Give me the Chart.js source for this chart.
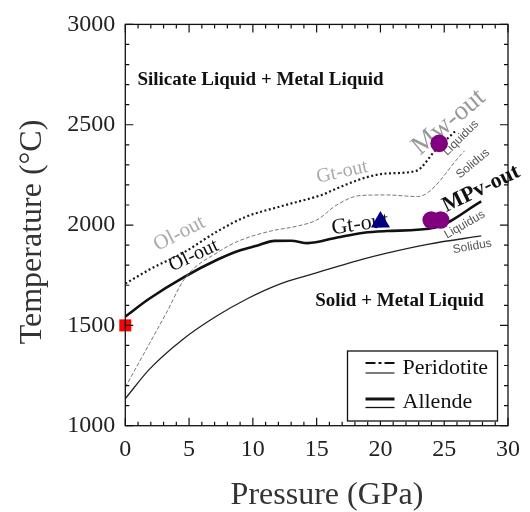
<!DOCTYPE html>
<html>
<head>
<meta charset="utf-8">
<script src="https://cdn.jsdelivr.net/npm/chart.js@4.4.0/dist/chart.umd.min.js"></script>
<style>
  html, body { margin: 0; padding: 0; background: #fff; }
  #wrap { width: 530px; height: 512px; }
</style>
</head>
<body>
<div id="wrap"><canvas id="phase-chart" width="530" height="512"></canvas></div>
<script>
// ---- data: pressure (GPa) vs temperature (°C) ----
const pressureTicks = [0, 5, 10, 15, 20, 25, 30];
const temperatureTicks = [1000, 1500, 2000, 2500, 3000];

// Allende liquidus (thick solid)
const allendeLiqP = [0, 1.9, 4.6, 7.2, 8.9, 10.3, 11.7, 13.0, 14.3, 16.6, 18.7, 20.5, 24.3, 27.9];
const allendeLiqT = [1544, 1634, 1741, 1827, 1872, 1897, 1921, 1922, 1910, 1938, 1962, 1970, 1988, 2118];

// Allende solidus (thin solid)
const allendeSolP = [0, 1.9, 4.5, 7.1, 9.6, 12.2, 14.3, 18.7, 20.5, 23.8, 27.9];
const allendeSolT = [1135, 1282, 1430, 1544, 1634, 1708, 1749, 1831, 1860, 1905, 1946];

// Peridotite liquidus (dotted)
const peridLiqP = [0, 2.0, 4.6, 7.2, 9.4, 12.0, 14.9, 15.4, 16.6, 18.9, 20.5, 22.8, 24.3, 25.9];
const peridLiqT = [1708, 1782, 1864, 1968, 2040, 2090, 2140, 2150, 2183, 2238, 2257, 2270, 2372, 2470];

// Peridotite solidus (thin dashed)
const peridSolP = [0, 1.9, 3.2, 4.7, 7.4, 8.9, 11.4, 13.5, 15.0, 16.6, 18.4, 20.5, 22.9, 26.6];
const peridSolT = [1192, 1410, 1560, 1737, 1870, 1921, 1970, 1995, 2025, 2101, 2147, 2150, 2142, 2370];

// experiment markers
const squareP = [0];     const squareT = [1500];
const triangleP = [20.0]; const triangleT = [2015];
const circleP = [23.98, 24.72, 24.6]; const circleT = [2025, 2025, 2407];

const SERIF = "'Liberation Serif', 'Times New Roman', serif";
const SANS = "'Liberation Sans', Arial, sans-serif";

function pts(xs, ys) {
    return xs.map((x, i) => ({ x: x, y: ys[i] }));
}

function lineSet(label, xs, ys, style) {
    return Object.assign({
        label: label,
        data: pts(xs, ys),
        showLine: true,
        pointRadius: 0,
        pointHoverRadius: 0,
        fill: false,
        cubicInterpolationMode: 'monotone',
        order: 2
    }, style);
}

// text written on the diagram (data coords for the centre)
const notes = [
    { text: 'Silicate Liquid + Metal Liquid', p: 10.6, t: 2724, rot: 0, font: 'bold 19px ' + SERIF, color: '#111' },
    { text: 'Solid + Metal Liquid', p: 21.5, t: 1623, rot: 0, font: 'bold 19px ' + SERIF, color: '#111' },
    { text: 'Ol-out', p: 4.24, t: 1957, rot: -27, font: '21px ' + SERIF, color: '#aaa' },
    { text: 'Ol-out', p: 5.37, t: 1847, rot: -25, font: '20px ' + SERIF, color: '#111' },
    { text: 'Gt-out', p: 17.0, t: 2264, rot: -12, font: '20px ' + SERIF, color: '#aaa' },
    { text: 'Gt-out', p: 18.4, t: 2003, rot: -8, font: '22px ' + SERIF, color: '#111' },
    { text: 'Mw-out', p: 25.35, t: 2512, rot: -40, font: '27px ' + SERIF, color: '#999' },
    { text: 'MPv-out', p: 27.9, t: 2180, rot: -26, font: 'bold 22px ' + SERIF, color: '#111' },
    { text: 'Liquidus', p: 26.3, t: 2434, rot: -45, font: '12px ' + SANS, color: '#555' },
    { text: 'Solidus', p: 27.25, t: 2306, rot: -40, font: '12px ' + SANS, color: '#555' },
    { text: 'Liquidus', p: 26.6, t: 2002, rot: -30, font: '12px ' + SANS, color: '#555' },
    { text: 'Solidus', p: 27.2, t: 1893, rot: -10, font: '12px ' + SANS, color: '#555' }
];

const notesPlugin = {
    id: 'notes',
    beforeDatasetsDraw(chart) {
        const { ctx, scales: { x, y } } = chart;
        ctx.save();
        ctx.textAlign = 'center';
        ctx.textBaseline = 'middle';
        notes.forEach(n => {
            ctx.save();
            ctx.translate(x.getPixelForValue(n.p), y.getPixelForValue(n.t));
            ctx.rotate(n.rot * Math.PI / 180);
            ctx.font = n.font;
            ctx.fillStyle = n.color;
            ctx.fillText(n.text, 0, 0);
            ctx.restore();
        });
        ctx.restore();
    }
};

// box frame with inward ticks on all sides, axis titles and the legend
const framePlugin = {
    id: 'frame',
    afterDraw(chart) {
        const { ctx, chartArea: a, scales: { x, y } } = chart;
        ctx.save();
        ctx.strokeStyle = '#111';
        ctx.lineWidth = 1.3;
        ctx.strokeRect(a.left, a.top, a.right - a.left, a.bottom - a.top);

        ctx.lineWidth = 1.2;
        ctx.beginPath();
        for (let p = x.min; p <= x.max; p += 1) {
            const px = x.getPixelForValue(p);
            const len = p % 5 === 0 ? 8 : 4;
            ctx.moveTo(px, a.bottom); ctx.lineTo(px, a.bottom - len);
            ctx.moveTo(px, a.top); ctx.lineTo(px, a.top + len);
        }
        for (let t = y.min; t <= y.max; t += 100) {
            const py = y.getPixelForValue(t);
            const len = t % 500 === 0 ? 8 : 4;
            ctx.moveTo(a.left, py); ctx.lineTo(a.left + len, py);
            ctx.moveTo(a.right, py); ctx.lineTo(a.right - len, py);
        }
        ctx.stroke();

        // axis titles
        ctx.fillStyle = '#333';
        ctx.font = '32px ' + SERIF;
        ctx.textAlign = 'center';
        ctx.textBaseline = 'middle';
        ctx.fillText('Pressure (GPa)', 327, 496);
        ctx.save();
        ctx.translate(33, 232);
        ctx.rotate(-Math.PI / 2);
        ctx.fillText('Temperature (\u00B0C)', 0, 0);
        ctx.restore();

        // legend
        const lx = a.right - 160.5, ly = a.bottom - 74.7;
        ctx.fillStyle = '#fff';
        ctx.fillRect(lx, ly, 150, 70);
        ctx.strokeStyle = '#111';
        ctx.lineWidth = 1.3;
        ctx.strokeRect(lx, ly, 150, 70);

        ctx.lineWidth = 2.2;
        ctx.setLineDash([10, 3, 3, 3]);
        ctx.beginPath(); ctx.moveTo(lx + 18, ly + 12); ctx.lineTo(lx + 47, ly + 12); ctx.stroke();
        ctx.setLineDash([]);
        ctx.lineWidth = 1.1;
        ctx.beginPath(); ctx.moveTo(lx + 18, ly + 22); ctx.lineTo(lx + 47, ly + 22); ctx.stroke();
        ctx.lineWidth = 3;
        ctx.beginPath(); ctx.moveTo(lx + 18, ly + 48); ctx.lineTo(lx + 47, ly + 48); ctx.stroke();
        ctx.lineWidth = 1.3;
        ctx.beginPath(); ctx.moveTo(lx + 18, ly + 56.5); ctx.lineTo(lx + 47, ly + 56.5); ctx.stroke();

        ctx.fillStyle = '#111';
        ctx.font = '22px ' + SERIF;
        ctx.textAlign = 'left';
        ctx.fillText('Peridotite', lx + 55, ly + 17);
        ctx.fillText('Allende', lx + 55, ly + 51);
        ctx.restore();
    }
};

const canvas = document.getElementById('phase-chart');

new Chart(canvas, {
    type: 'scatter',
    data: {
        datasets: [
            {
                label: 'start',
                data: pts(squareP, squareT),
                pointStyle: 'rect',
                pointRadius: 8.5,
                backgroundColor: '#ff0000',
                borderWidth: 0,
                clip: false,
                order: 0
            },
            {
                label: 'triangle',
                data: pts(triangleP, triangleT),
                pointStyle: 'triangle',
                pointRadius: 11,
                backgroundColor: '#000080',
                borderWidth: 0,
                order: 0
            },
            {
                label: 'circles',
                data: pts(circleP, circleT),
                pointStyle: 'circle',
                pointRadius: 8.8,
                backgroundColor: '#800080',
                borderWidth: 0,
                order: 0
            },
            lineSet('Peridotite liquidus', peridLiqP, peridLiqT, {
                borderColor: '#1a1a1a', borderWidth: 2.2, borderDash: [2, 2.5]
            }),
            lineSet('Peridotite solidus', peridSolP, peridSolT, {
                borderColor: '#777', borderWidth: 1, borderDash: [4, 2]
            }),
            lineSet('Allende liquidus', allendeLiqP, allendeLiqT, {
                borderColor: '#111', borderWidth: 2.6
            }),
            lineSet('Allende solidus', allendeSolP, allendeSolT, {
                borderColor: '#222', borderWidth: 1.3
            })
        ]
    },
    options: {
        responsive: false,
        animation: false,
        devicePixelRatio: 1,
        layout: { padding: { top: 19, right: 16.5, left: 0, bottom: 0 } },
        plugins: {
            legend: { display: false },
            tooltip: { enabled: false }
        },
        scales: {
            x: {
                type: 'linear',
                min: 0,
                max: 30,
                afterBuildTicks: s => { s.ticks = pressureTicks.map(v => ({ value: v })); },
                afterFit: s => { s.height = 86.3; },
                grid: { display: false, drawTicks: false },
                border: { display: false },
                ticks: {
                    padding: 10,
                    color: '#222',
                    font: { family: SERIF, size: 24 },
                    maxRotation: 0,
                    callback: v => String(v)
                }
            },
            y: {
                type: 'linear',
                min: 1000,
                max: 3000,
                afterBuildTicks: s => { s.ticks = temperatureTicks.map(v => ({ value: v })); },
                afterFit: s => { s.width = 125.3; },
                grid: { display: false, drawTicks: false },
                border: { display: false },
                ticks: {
                    padding: 10,
                    color: '#222',
                    font: { family: SERIF, size: 24 },
                    callback: v => String(v)
                }
            }
        }
    },
    plugins: [notesPlugin, framePlugin]
});
</script>
</body>
</html>
